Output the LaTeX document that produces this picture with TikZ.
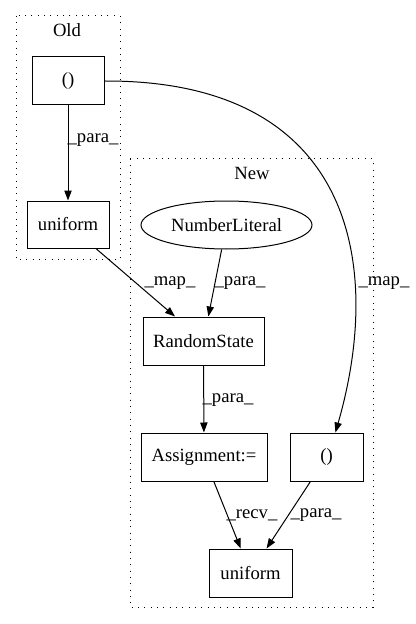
\documentclass[tikz,border=0pt]{standalone}
\usepackage{fontspec}
\setmainfont{Liberation Serif}
\usetikzlibrary{arrows.meta,shapes.geometric}
\tikzset{
  box/.style={draw,rectangle,line width=0.75pt,minimum height=36pt,inner sep=0pt},
  oval/.style={draw,ellipse,line width=0.75pt,minimum height=36pt,inner sep=0pt},
  cluster/.style={line width=0.75pt,dash pattern=on 0.75pt off 4pt},
  edge/.style={line width=0.75pt,-{Triangle[length=7.5pt,width=5.5pt]}},
  lbl/.style={inner sep=0pt}
}

\begin{document}
\begin{tikzpicture}[x=0.75pt,y=-0.75pt,font=\fontsize{14pt}{16pt}\selectfont]
                \useasboundingbox (0,0) rectangle (415,624);
                % clusters
                \draw[cluster] (16,16) rectangle (120,259);
                \draw[cluster] (130,159) rectangle (373,607);
                \node (oldname) at (67,30) {Old};
                \node (newname) at (252,173) {New};
                % old nodes
                \node[box,minimum width=54pt] (oldparen) at (68,81) {()};
                \node[box,minimum width=61.5pt,minimum height=35.25pt] (olduniform) at (68,224.5) {uniform};
                % new nodes
                \node[oval,minimum width=128.25pt] (numlit) at (226.5,225) {NumberLiteral};
                \node[box,minimum width=90.75pt] (randstate) at (203.5,341) {RandomState};
                \node[box,minimum width=94.5pt] (assign) at (204,457) {Assignment:=};
                \node[box,minimum width=54.75pt] (newparen) at (326.5,457) {()};
                \node[box,minimum width=62.25pt] (newuniform) at (250.5,573) {uniform};
                % edges
                \draw[edge] (oldparen) -- (olduniform);
                \draw[edge] (olduniform) -- (randstate);
                \draw[edge] (numlit) -- (randstate);
                \draw[edge] (randstate) -- (assign);
                \draw[edge] (assign) -- (newuniform);
                \draw[edge] (newparen) -- (newuniform);
                \draw[edge] (oldparen.east) .. controls (350,80) and (385,260) .. (newparen.70);
                % edge labels
                \node[lbl] (l1) at (93,140) {\_para\_};
                \node[lbl] (l2) at (170,283) {\_map\_};
                \node[lbl] (l3) at (240,283) {\_para\_};
                \node[lbl] (l4) at (384,283) {\_map\_};
                \node[lbl] (l5) at (228,400) {\_para\_};
                \node[lbl] (l6) at (252,515) {\_recv\_};
                \node[lbl] (l7) at (316,515) {\_para\_};
\end{tikzpicture}
\end{document}
